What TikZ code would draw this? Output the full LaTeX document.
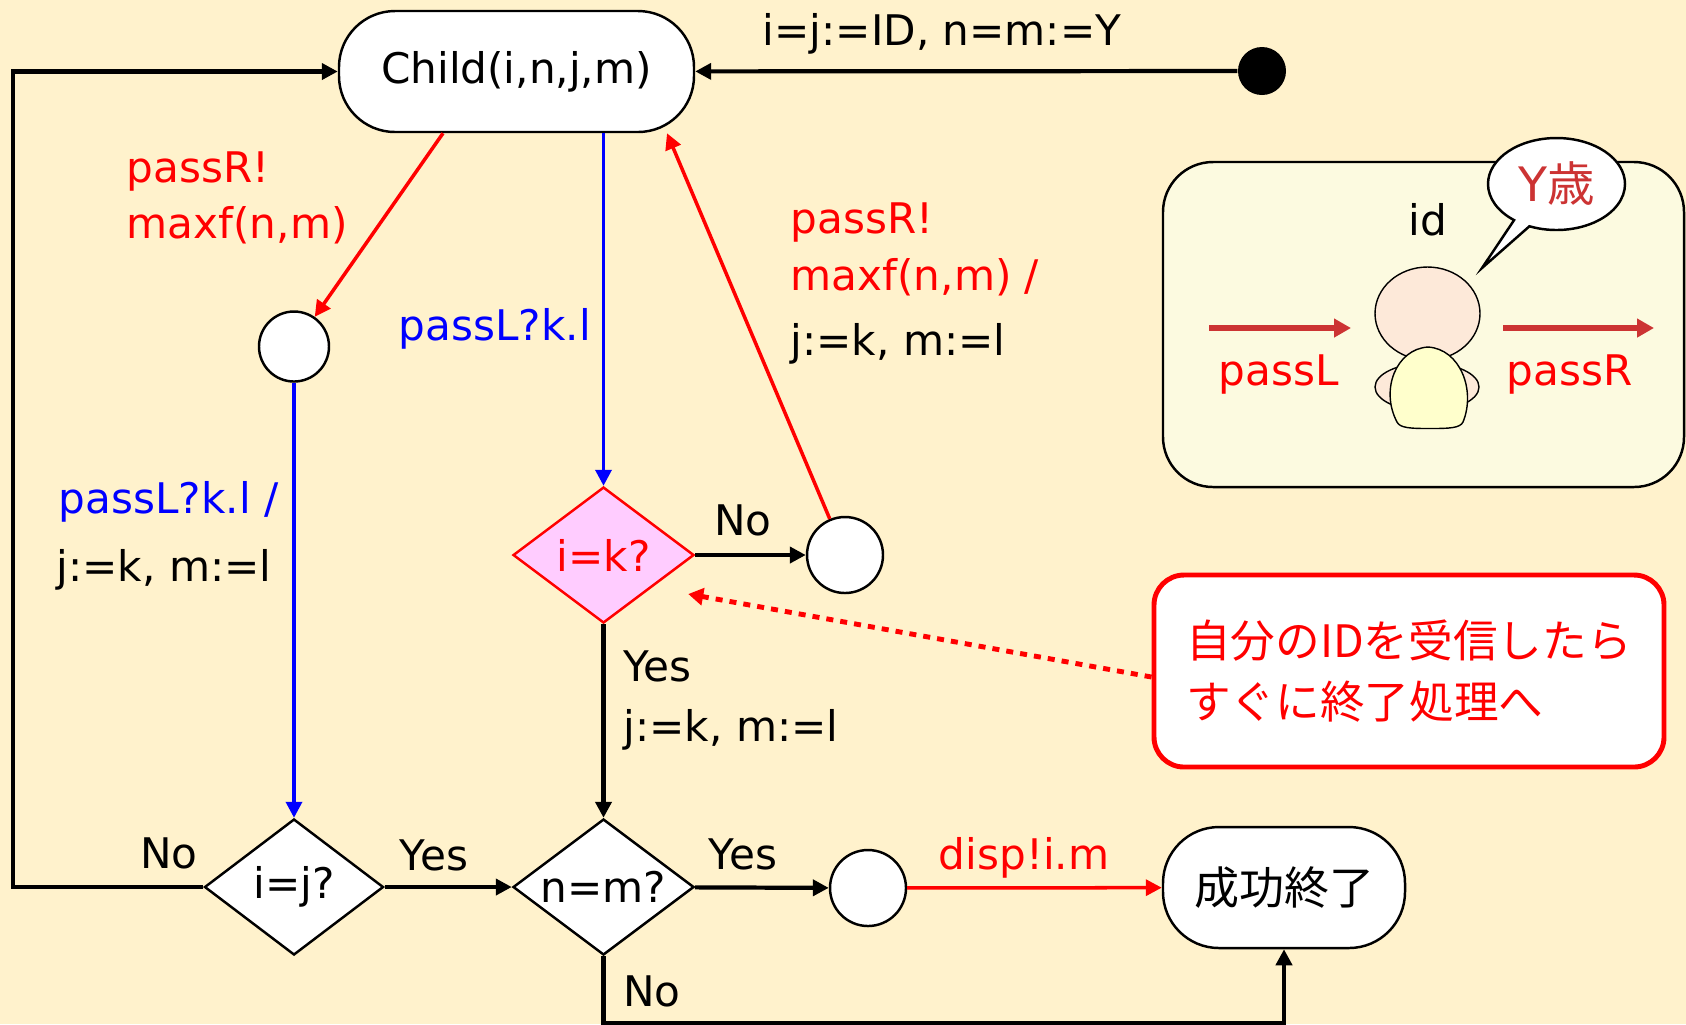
\documentclass[tikz,border=0pt]{standalone}
\usepackage{fontspec}
\setmainfont{DejaVu Sans}
\newfontfamily\jp{Noto Sans CJK JP}
\usetikzlibrary{arrows.meta,shapes.geometric,shapes.callouts}
\definecolor{paper}{RGB}{255,242,204}
\definecolor{panel}{RGB}{252,250,224}
\definecolor{pinkfill}{RGB}{255,204,255}
\definecolor{brick}{RGB}{204,51,51}
\definecolor{skin}{RGB}{253,233,217}
\definecolor{shirt}{RGB}{255,255,204}
\tikzset{
  stadium/.style={draw,line width=0.7pt,fill=white,rounded corners=5.6mm,inner sep=0,
    minimum width=3.55cm,minimum height=1.21cm},
  test/.style={draw,diamond,aspect=1.33,line width=0.7pt,fill=white,inner sep=0,
    minimum width=1.81cm,minimum height=1.36cm},
  waypt/.style={draw,circle,line width=0.7pt,fill=white,inner sep=0,minimum size=0.76cm},
  flow/.style={line width=1.2pt,->},
  lbl/.style={inner sep=0,anchor=base west},
  mid/.style={inner sep=0,anchor=base},
}
\begin{document}
\begin{tikzpicture}[font=\fontsize{12}{14}\selectfont,>={Triangle[length=1.6mm,width=1.6mm]}]
\fill[paper] (0,0) rectangle (16.86,-10.24);

% states and tests
\node[stadium] (child) at (5.165,-0.715) {Child(i,n,j,m)};
\node[circle,fill,inner sep=0,minimum size=0.48cm] (init) at (12.62,-0.71) {};
\node[waypt,minimum size=0.70cm] (c1) at (2.94,-3.465) {};
\node[test,minimum width=1.79cm] (ij) at (2.94,-8.87) {i=j?};
\node[test,fill=pinkfill,draw=red,text=red] (ik) at (6.035,-5.55) {i=k?};
\node[test] (nm) at (6.035,-8.87) {n=m?};
\node[waypt] (c2) at (8.45,-5.55) {};
\node[waypt] (c3) at (8.68,-8.88) {};
\node[stadium,minimum width=2.42cm,font=\jp\fontsize{12.8}{15}\selectfont] (done) at (12.84,-8.875) {成功終了};

% transitions
\draw[flow] (init) -- (child);
\node[mid] (initlbl) at (9.42,-0.45) {i=j:=ID, n=m:=Y};
\draw[flow] (ij.west) -- ++(-1.90,0) |- (child.west);
\node[mid] (nolbl1) at (1.69,-8.68) {No};

\draw[line width=1pt,red,->] ([xshift=-7.35mm]child.south) -- (c1);
\node[lbl,red] at (1.26,-1.82) {passR!};
\node[lbl,red] at (1.26,-2.38) {maxf(n,m)};

\draw[line width=1pt,blue,->] (c1) -- (ij);
\node[lbl,blue] at (0.58,-5.13) {passL?k.l /};
\node[lbl] at (0.56,-5.81) {j:=k, m:=l};

\draw[line width=1pt,blue,->] (child.south -| ik) -- (ik);
\node[lbl,blue] at (3.98,-3.40) {passL?k.l};

\draw[flow] (ik) -- (c2);
\node[mid] (nolbl2) at (7.43,-5.35) {No};

\draw[line width=1pt,red,->] (c2) -- ([xshift=15.05mm]child.south);
\node[lbl,red] at (7.90,-2.33) {passR!};
\node[lbl,red] at (7.90,-2.90) {maxf(n,m) /};
\node[lbl] at (7.90,-3.55) {j:=k, m:=l};

\draw[flow] (ik) -- (nm);
\node[lbl] at (6.23,-6.81) {Yes};
\node[lbl] at (6.23,-7.41) {j:=k, m:=l};

\draw[flow] (ij) -- (nm);
\node[mid] (yeslbl1) at (4.34,-8.70) {Yes};
\draw[flow] (nm) -- (c3);
\node[mid] (yeslbl2) at (7.43,-8.69) {Yes};
\draw[line width=1pt,red,->] (c3) -- (done);
\node[mid,red] (displbl) at (10.24,-8.69) {disp!i.m};

\draw[flow] (nm.south) -- ++(0,-0.665) -| (done.south);
\node[mid] (nolbl3) at (6.52,-10.06) {No};

% note on the i=k test
\node[draw=red,line width=1.4pt,fill=white,rounded corners=3mm,minimum width=5.10cm,
  minimum height=1.92cm,align=left,text=red,font=\jp\fontsize{12.7}{17.3}\selectfont]
  (note) at (14.09,-6.71) {自分のIDを受信したら\\すぐに終了処理へ};
\draw[red,line width=1.4pt,dash pattern=on 2pt off 2pt,
  -{Triangle[length=1.5mm,width=1.7mm]}]
  ([yshift=-0.6mm]note.west) -- ([shift={(-0.07,-0.39)}]ik.east);

% the child with its two channels
\node[draw,line width=0.7pt,fill=panel,rounded corners=5mm,minimum width=5.21cm,
  minimum height=3.25cm] (panel) at (14.235,-3.245) {};
\node[mid] (id) at (14.28,-2.35) {id};
\node[ellipse callout,draw,fill=white,line width=0.7pt,inner sep=0,
  minimum width=1.37cm,minimum height=0.92cm,callout absolute pointer={(14.82,-2.68)},
  text=brick,font=\fontsize{13.5}{15}\selectfont] (say) at (15.565,-1.84) {Y{\jp 歳}};
\draw[fill=skin,line width=0.4pt] (14.275,-3.135) ellipse [x radius=0.525,y radius=0.465];
\draw[fill=skin,line width=0.4pt] (14.27,-3.87) ellipse [x radius=0.52,y radius=0.24];
\draw[fill=shirt,line width=0.4pt] (13.97,-4.22)
  .. controls (13.80,-3.90) and (13.96,-3.49) .. (14.28,-3.47)
  .. controls (14.60,-3.49) and (14.76,-3.90) .. (14.63,-4.22)
  .. controls (14.60,-4.28) and (14.50,-4.285) .. (14.30,-4.285)
  .. controls (14.10,-4.285) and (14.00,-4.28) .. cycle;
\coordinate (inL) at (12.09,-3.28);
\coordinate (inR) at (13.51,-3.28);
\coordinate (outL) at (15.03,-3.28);
\coordinate (outR) at (16.54,-3.28);
\draw[brick,line width=1.7pt,-{Triangle[length=1.7mm,width=1.8mm]}] (inL) -- (inR);
\draw[brick,line width=1.7pt,-{Triangle[length=1.7mm,width=1.8mm]}] (outL) -- (outR);
\node[mid,red] (passl) at (12.79,-3.85) {passL};
\node[mid,red] (passr) at (15.695,-3.85) {passR};
\end{tikzpicture}
\end{document}
